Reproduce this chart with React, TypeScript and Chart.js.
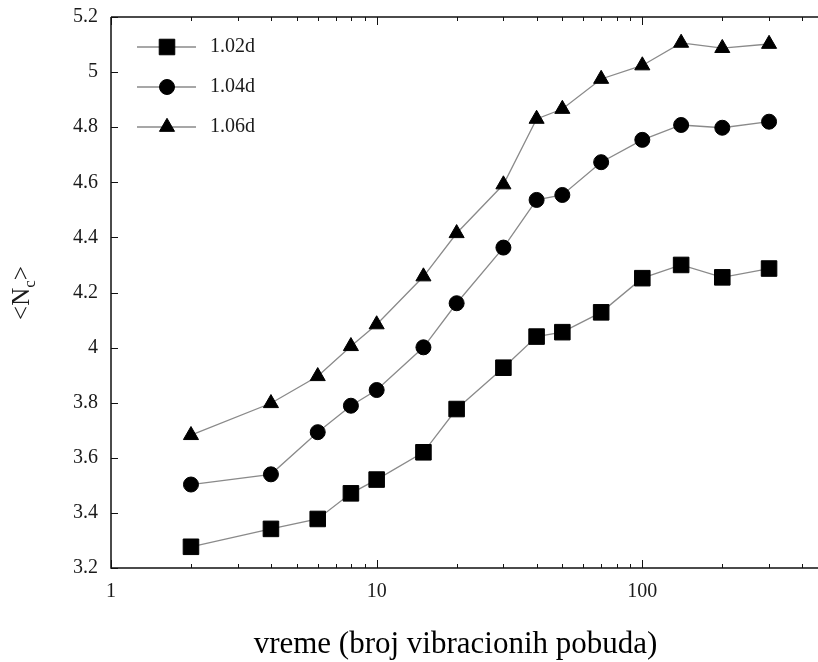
import React, { useEffect, useRef } from 'react';
import { Chart, registerables } from 'chart.js';

Chart.register(...registerables);

// ---- data ----
const xValues = [2, 4, 6, 8, 10, 15, 20, 30, 40, 50, 70, 100, 140, 200, 300];
const series102 = [3.277, 3.342, 3.378, 3.471, 3.521, 3.62, 3.777, 3.927, 4.04, 4.056, 4.128, 4.252, 4.3, 4.255, 4.287];
const series104 = [3.503, 3.54, 3.693, 3.789, 3.846, 4.001, 4.161, 4.363, 4.536, 4.554, 4.673, 4.754, 4.808, 4.798, 4.82];
const series106 = [3.682, 3.798, 3.896, 4.005, 4.084, 4.258, 4.415, 4.592, 4.83, 4.866, 4.975, 5.024, 5.106, 5.087, 5.102];
const seriesLabels = ['1.02d', '1.04d', '1.06d'];
const seriesStyles = ['rect', 'circle', 'triangle'];
const pointRadii = [11, 7.5, 8.7];

const yTicks = [3.2, 3.4, 3.6, 3.8, 4, 4.2, 4.4, 4.6, 4.8, 5, 5.2];
const xMajorTicks = [1, 10, 100];
const xMinorTicks = [2, 3, 4, 5, 6, 7, 8, 9, 20, 30, 40, 50, 60, 70, 80, 90, 200, 300, 400];

const xTitle = 'vreme (broj vibracionih pobuda)';
const yTitleMain = '<N';
const yTitleSub = 'c';
const yTitleEnd = '>';

const FONT = "'Liberation Serif', 'Times New Roman', serif";
const LINE_COLOR = '#8a8a8a';

function drawMarker(ctx: CanvasRenderingContext2D, style: string, x: number, y: number, r: number) {
  ctx.beginPath();
  if (style === 'rect') {
    const s = Math.SQRT1_2 * r;
    ctx.rect(x - s, y - s, 2 * s, 2 * s);
  } else if (style === 'circle') {
    ctx.arc(x, y, r, 0, Math.PI * 2);
  } else {
    let a = 0;
    ctx.moveTo(x + Math.sin(a) * r, y - Math.cos(a) * r);
    a += (2 * Math.PI) / 3;
    ctx.lineTo(x + Math.sin(a) * r, y - Math.cos(a) * r);
    a += (2 * Math.PI) / 3;
    ctx.lineTo(x + Math.sin(a) * r, y - Math.cos(a) * r);
    ctx.closePath();
  }
  ctx.fill();
  ctx.stroke();
}

const framePlugin = {
  id: 'framePlugin',
  afterDraw(chart: any) {
    const { ctx, chartArea, scales } = chart;
    const xs = scales.x;
    const ys = scales.y;
    const { left, right, top, bottom } = chartArea;
    ctx.save();
    ctx.strokeStyle = '#111';
    ctx.lineWidth = 1.5;
    ctx.beginPath();
    ctx.moveTo(left, top);
    ctx.lineTo(left, bottom);
    ctx.lineTo(right, bottom);
    ctx.moveTo(left, top);
    ctx.lineTo(right, top);
    ctx.stroke();

    ctx.lineWidth = 1;
    ctx.beginPath();
    for (const v of yTicks) {
      const py = Math.round(ys.getPixelForValue(v)) + 0.5;
      ctx.moveTo(left, py);
      ctx.lineTo(left + 7, py);
    }
    for (const v of xMajorTicks) {
      const px = Math.round(xs.getPixelForValue(v)) + 0.5;
      ctx.moveTo(px, bottom);
      ctx.lineTo(px, bottom - 8);
      ctx.moveTo(px, top);
      ctx.lineTo(px, top + 8);
    }
    for (const v of xMinorTicks) {
      const px = Math.round(xs.getPixelForValue(v)) + 0.5;
      ctx.moveTo(px, bottom);
      ctx.lineTo(px, bottom - 4);
      ctx.moveTo(px, top);
      ctx.lineTo(px, top + 4);
    }
    ctx.stroke();

    // legend
    const legendY = [47, 87, 127];
    seriesLabels.forEach((lab, i) => {
      const y = legendY[i];
      ctx.strokeStyle = LINE_COLOR;
      ctx.lineWidth = 1.3;
      ctx.beginPath();
      ctx.moveTo(137, y);
      ctx.lineTo(196, y);
      ctx.stroke();
      ctx.fillStyle = '#000';
      ctx.strokeStyle = '#000';
      ctx.lineWidth = 1;
      drawMarker(ctx, seriesStyles[i], 167, y, pointRadii[i]);
      ctx.fillStyle = '#1a1a1a';
      ctx.font = `20px ${FONT}`;
      ctx.textAlign = 'left';
      ctx.textBaseline = 'middle';
      ctx.fillText(lab, 210, y);
    });

    // x title
    ctx.fillStyle = '#000';
    ctx.font = `31px ${FONT}`;
    ctx.textAlign = 'center';
    ctx.textBaseline = 'alphabetic';
    ctx.fillText(xTitle, 455.5, 653);

    // y title (rotated, with subscript)
    ctx.translate(29, 293);
    ctx.rotate(-Math.PI / 2);
    ctx.fillStyle = '#1a1a1a';
    ctx.textAlign = 'left';
    ctx.font = `25px ${FONT}`;
    const w1 = ctx.measureText(yTitleMain).width;
    const w3 = ctx.measureText(yTitleEnd).width;
    ctx.font = `17px ${FONT}`;
    const w2 = ctx.measureText(yTitleSub).width;
    const total = w1 + w2 + w3;
    let x0 = -total / 2;
    ctx.font = `25px ${FONT}`;
    ctx.fillText(yTitleMain, x0, 0);
    x0 += w1;
    ctx.font = `17px ${FONT}`;
    ctx.fillText(yTitleSub, x0, 6);
    x0 += w2;
    ctx.font = `25px ${FONT}`;
    ctx.fillText(yTitleEnd, x0, 0);
    ctx.restore();
  },
};

export default function App() {
  const canvasRef = useRef<HTMLCanvasElement | null>(null);

  useEffect(() => {
    const canvas = canvasRef.current;
    if (!canvas) return;
    const allSeries = [series102, series104, series106];
    const chart = new Chart(canvas, {
      type: 'line',
      data: {
        datasets: allSeries.map((s, i) => ({
          label: seriesLabels[i],
          data: xValues.map((x, j) => ({ x, y: s[j] })),
          borderColor: LINE_COLOR,
          borderWidth: 1.3,
          pointStyle: seriesStyles[i] as any,
          pointRadius: pointRadii[i],
          pointBackgroundColor: '#000',
          pointBorderColor: '#000',
          pointBorderWidth: 1,
          tension: 0,
          fill: false,
        })),
      },
      options: {
        animation: false,
        responsive: false,
        devicePixelRatio: 1,
        layout: { autoPadding: false, padding: { top: 17, left: 0, right: 0, bottom: 0 } },
        plugins: {
          legend: { display: false },
          tooltip: { enabled: false },
          title: { display: false },
        },
        scales: {
          x: {
            type: 'logarithmic',
            min: 1,
            max: 500,
            grid: { display: false, drawTicks: false },
            border: { display: false },
            afterBuildTicks: (scale: any) => {
              scale.ticks = xMajorTicks.map((v) => ({ value: v }));
            },
            afterFit: (scale: any) => {
              scale.height = 94;
              scale.paddingLeft = 0;
              scale.paddingRight = 0;
              scale.paddingTop = 0;
              scale.paddingBottom = 0;
            },
            ticks: {
              autoSkip: false,
              maxRotation: 0,
              padding: 12,
              color: '#1a1a1a',
              font: { family: FONT, size: 20 },
              callback: (v: any) => String(v),
            },
          },
          y: {
            type: 'linear',
            min: 3.2,
            max: 5.2,
            grid: { display: false, drawTicks: false },
            border: { display: false },
            afterBuildTicks: (scale: any) => {
              scale.ticks = yTicks.map((v) => ({ value: v }));
            },
            afterFit: (scale: any) => {
              scale.width = 111;
              scale.paddingLeft = 0;
              scale.paddingRight = 0;
              scale.paddingTop = 0;
              scale.paddingBottom = 0;
            },
            ticks: {
              padding: 13,
              color: '#1a1a1a',
              font: { family: FONT, size: 20 },
              callback: (v: any) => String(Math.round(Number(v) * 10) / 10),
            },
          },
        },
      } as any,
      plugins: [framePlugin],
    });
    return () => chart.destroy();
  }, []);

  return (
    <div style={{ position: 'absolute', left: 0, top: 0, width: 818, height: 662, overflow: 'hidden', background: '#fff' }}>
      <canvas ref={canvasRef} width={828} height={662} style={{ width: 828, height: 662, display: 'block' }} />
    </div>
  );
}
